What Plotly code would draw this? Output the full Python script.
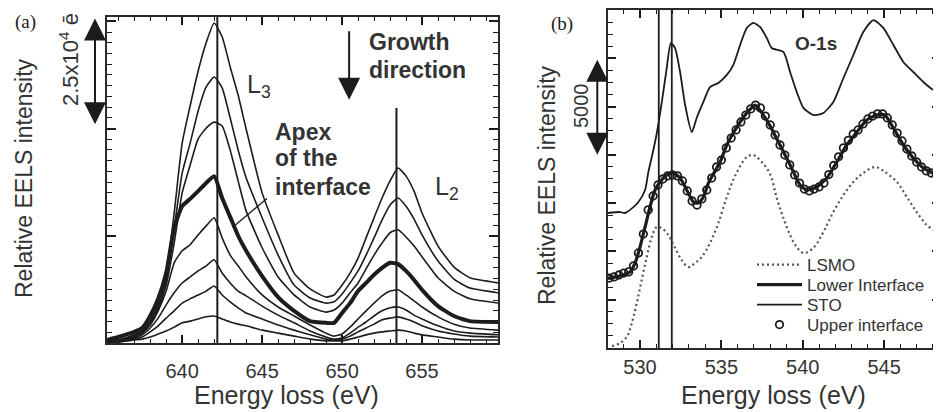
import plotly.graph_objects as go

INK = "#1c1c1c"
FONT = "Liberation Sans, Arial, Helvetica, sans-serif"

# ---------------- Panel (a): Mn L2,3 edge, spectra across the interface ----------------
energy_a = [635.3, 636, 637, 637.5, 638, 638.5, 639, 639.5, 640, 640.5, 641, 641.5, 642, 642.5,
            643, 643.5, 644, 645, 646, 647, 648, 649, 649.5, 650, 650.5, 651, 651.5, 652,
            652.5, 653, 653.5, 654, 654.5, 655, 656, 657, 658, 659.8]

# intensities in units of 10^3 electrons (top spectrum first)
spec_1 = [0.5, 0.7, 1.9, 2.8, 5.1, 9.3, 15.9, 30.3, 46.6, 55.3, 63.4, 70.0, 74.6, 71.4, 64.4, 57.8,
          49.9, 35.0, 25.2, 16.3, 12.6, 10.7, 11.2, 13.5, 16.3, 19.8, 24.5, 29.2, 33.8, 37.8, 40.8,
          38.9, 35.4, 30.3, 22.6, 17.7, 15.2, 14.0]
spec_2 = [0.5, 0.7, 1.6, 2.6, 4.7, 8.4, 14.5, 26.8, 39.6, 46.6, 54.1, 59.7, 62.0, 59.5, 52.5, 45.0,
          38.5, 29.2, 20.5, 13.5, 10.5, 9.3, 9.6, 11.4, 14.0, 16.8, 20.5, 24.5, 28.7, 32.2, 33.8,
          31.9, 28.9, 25.2, 19.1, 14.9, 12.8, 11.7]
spec_3 = [0.5, 0.7, 1.6, 2.3, 4.4, 7.9, 13.5, 23.3, 35.0, 41.5, 47.6, 50.1, 51.5, 50.6, 45.0, 37.8,
          30.8, 22.2, 15.4, 11.2, 8.4, 7.2, 7.7, 9.3, 11.7, 14.0, 17.3, 20.5, 23.3, 25.7, 26.4,
          24.7, 22.6, 20.1, 15.2, 12.1, 10.3, 9.3]
spec_apex = [0.7, 1.4, 2.6, 3.5, 6.3, 10.3, 16.3, 26.8, 31.9, 33.6, 35.4, 37.3, 38.9, 33.8, 29.4, 25.0,
             21.5, 15.6, 10.7, 7.5, 5.1, 4.7, 4.7, 7.0, 9.3, 12.1, 14.0, 15.9, 17.5, 18.7, 18.4,
             16.8, 14.7, 12.4, 8.6, 6.3, 5.1, 4.9]
spec_5 = [0.5, 0.7, 1.4, 2.3, 4.2, 7.5, 12.1, 18.7, 21.5, 22.9, 25.2, 27.3, 29.2, 24.5, 20.5, 18.0,
          15.4, 11.2, 8.4, 6.3, 4.2, 2.3, 1.6, 2.1, 3.7, 5.6, 7.5, 9.3, 11.0, 12.1, 12.4,
          11.2, 9.8, 8.4, 6.1, 4.4, 3.5, 3.0]
spec_6 = [0.5, 0.7, 1.2, 1.9, 3.5, 5.8, 8.9, 11.7, 14.0, 15.4, 16.8, 18.0, 19.4, 16.3, 14.0, 12.1,
          11.0, 8.6, 6.5, 4.7, 2.8, 1.4, 0.9, 1.2, 2.3, 3.7, 4.9, 6.3, 7.5, 8.2, 8.4,
          7.7, 6.5, 5.6, 4.0, 2.8, 2.3, 1.9]
spec_7 = [0.2, 0.5, 0.9, 1.4, 2.6, 4.0, 5.8, 7.5, 9.3, 10.3, 11.2, 12.1, 13.3, 11.2, 9.6, 8.2,
          7.0, 5.6, 4.2, 3.0, 1.9, 0.9, 0.7, 0.9, 1.6, 2.6, 3.5, 4.4, 5.4, 5.8, 6.1,
          5.6, 4.9, 4.0, 2.8, 2.1, 1.6, 1.4]
spec_8 = [0.2, 0.2, 0.7, 0.9, 1.4, 2.1, 2.8, 3.7, 4.7, 5.1, 5.6, 6.1, 6.3, 5.6, 4.9, 4.4,
          4.0, 3.0, 2.3, 1.6, 0.9, 0.5, 0.5, 0.5, 0.9, 1.4, 1.9, 2.3, 2.6, 2.8, 3.0,
          2.8, 2.3, 1.9, 1.4, 0.9, 0.7, 0.7]

edge_energy_a = [642.2, 653.4]        # L3, L2 marker lines
edge_top_a = [76.0, 54.8]
scale_a = [51.0, 76.0]                # 2.5x10^4 e scale bar (10^3 e units)
growth_arrow = [73.0, 56.7]

# ---------------- Panel (b): O-1s edge ----------------
sto_energy = [528.03, 528.77, 529.08, 529.39, 529.90, 530.31, 530.51, 530.75, 531.03, 531.33,
              531.64, 531.89, 532.15, 532.46, 532.77, 533.18, 533.48, 533.89, 534.30, 534.81,
              535.33, 535.73, 536.15, 536.56, 536.96, 537.38, 537.79, 538.09, 538.81, 539.22,
              539.63, 540.04, 540.65, 541.27, 541.88, 542.50, 543.11, 543.72, 544.34, 544.95,
              545.57, 546.18, 546.79, 547.41, 548.03, 548.44]
sto_intensity = [6.99, 7.04, 6.99, 7.15, 7.56, 8.18, 9.11, 9.99, 11.13, 12.69,
                 14.50, 15.79, 15.53, 14.29, 12.58, 11.18, 11.91, 12.74, 13.51, 13.72,
                 14.14, 14.65, 15.69, 16.57, 16.83, 16.62, 16.05, 15.53, 15.33, 14.29,
                 13.26, 12.43, 12.06, 12.17, 12.74, 13.98, 15.17, 16.36, 16.98, 16.57,
                 15.69, 14.81, 14.29, 13.77, 13.36, 13.36]

lower_energy = [528.03, 528.77, 529.39, 529.69, 530.00, 530.31, 530.61, 530.92, 531.23, 531.64,
                532.05, 532.46, 532.87, 533.28, 533.58, 533.89, 534.20, 534.51, 534.92, 535.33,
                535.73, 536.15, 536.56, 537.07, 537.58, 537.99, 538.60, 539.22, 539.83, 540.25,
                540.86, 541.48, 542.09, 542.70, 543.32, 543.93, 544.55, 545.06, 545.57, 546.18,
                546.79, 547.41, 548.03, 548.44]
lower_intensity = [3.60, 3.73, 3.94, 4.40, 5.23, 6.27, 7.30, 8.18, 8.60, 8.96,
                   9.06, 8.80, 8.18, 7.56, 7.51, 7.82, 8.54, 9.01, 9.63, 10.51,
                   11.13, 11.70, 12.17, 12.58, 12.06, 11.50, 10.51, 9.48, 8.44, 8.18,
                   8.34, 8.80, 9.63, 10.51, 11.18, 11.81, 12.06, 12.06, 11.39, 10.51,
                   9.84, 9.32, 9.06, 8.96]

upper_energy = [528.1, 528.4, 528.7, 529.0, 529.3, 529.6, 529.9, 530.2, 530.5, 530.8,
                531.1, 531.4, 531.7, 532.0, 532.3, 532.6, 532.9, 533.2, 533.5, 533.8,
                534.1, 534.4, 534.7, 535.0, 535.3, 535.6, 535.9, 536.2, 536.5, 536.8,
                537.1, 537.4, 537.7, 538.0, 538.3, 538.6, 538.9, 539.2, 539.5, 539.8,
                540.1, 540.4, 540.7, 541.0, 541.3, 541.6, 541.9, 542.2, 542.5, 542.8,
                543.1, 543.4, 543.7, 544.0, 544.3, 544.6, 544.9, 545.2, 545.5, 545.8,
                546.1, 546.4, 546.7, 547.0, 547.3, 547.6, 547.9, 548.2]
upper_intensity = [3.62, 3.68, 3.78, 3.88, 3.94, 4.25, 4.92, 5.90, 7.15, 7.87,
                   8.44, 8.75, 8.91, 8.96, 8.91, 8.65, 8.13, 7.61, 7.40, 7.72,
                   8.18, 8.80, 9.37, 9.73, 10.36, 10.87, 11.29, 11.70, 12.06, 12.38,
                   12.58, 12.43, 12.01, 11.55, 11.03, 10.51, 9.99, 9.48, 8.96, 8.54,
                   8.23, 8.13, 8.23, 8.34, 8.54, 8.98, 9.45, 9.90, 10.36, 10.75,
                   11.08, 11.29, 11.60, 11.86, 12.01, 12.12, 12.12, 11.91, 11.55, 11.13,
                   10.72, 10.30, 9.94, 9.63, 9.37, 9.17, 9.06, 9.01]

lsmo_energy = [528.28, 528.77, 529.18, 529.49, 529.80, 530.10, 530.41, 530.72, 531.03, 531.33,
               531.74, 532.15, 532.56, 532.97, 533.38, 533.79, 534.30, 534.81, 535.33, 535.84,
               536.56, 536.96, 537.48, 537.99, 538.40, 538.81, 539.22, 539.63, 540.04, 540.65,
               541.27, 541.88, 542.50, 543.11, 543.72, 544.44, 545.06, 545.78, 546.39, 547.00,
               547.62, 548.24]
lsmo_intensity = [0.10, 0.26, 0.57, 1.29, 2.33, 3.52, 4.71, 5.75, 6.27, 6.21,
                  5.85, 5.18, 4.56, 4.19, 4.40, 4.71, 5.44, 6.47, 7.82, 8.91,
                  9.89, 9.99, 9.63, 9.01, 7.77, 6.73, 5.85, 5.23, 4.92, 5.18,
                  6.01, 7.04, 7.92, 8.60, 9.06, 9.37, 9.11, 8.60, 7.82, 7.04,
                  6.37, 6.01]

edge_energy_b = [531.15, 531.95]
scale_b = [10.0, 15.0]                # 5000 e scale bar (10^3 e units)

legend_names = ["LSMO", "Lower Interface", "STO", "Upper interface"]

# ---------------- Figure ----------------
fig = go.Figure()

thin_specs = [spec_1, spec_2, spec_3, spec_5, spec_6, spec_7, spec_8]
for s in thin_specs:
    fig.add_trace(go.Scatter(x=energy_a, y=s, mode="lines", showlegend=False,
                             line=dict(color=INK, width=1.6, shape="spline", smoothing=0.5),
                             xaxis="x", yaxis="y"))
fig.add_trace(go.Scatter(x=energy_a, y=spec_apex, mode="lines", showlegend=False,
                         line=dict(color=INK, width=4, shape="spline", smoothing=0.5),
                         xaxis="x", yaxis="y"))
for e, top in zip(edge_energy_a, edge_top_a):
    fig.add_trace(go.Scatter(x=[e, e], y=[0, top], mode="lines", showlegend=False,
                             line=dict(color=INK, width=2), xaxis="x", yaxis="y"))

for e in edge_energy_b:
    fig.add_trace(go.Scatter(x=[e, e], y=[0, 17.5], mode="lines", showlegend=False,
                             line=dict(color=INK, width=1.8), xaxis="x2", yaxis="y2"))

fig.add_trace(go.Scatter(x=lsmo_energy, y=lsmo_intensity, mode="lines", name=legend_names[0],
                         line=dict(color="#555555", width=2.2, dash="2px,3px", shape="spline"),
                         xaxis="x2", yaxis="y2", legend="legend"))
fig.add_trace(go.Scatter(x=lower_energy, y=lower_intensity, mode="lines", name=legend_names[1],
                         line=dict(color=INK, width=3.2, shape="spline", smoothing=0.6),
                         xaxis="x2", yaxis="y2", legend="legend2"))
fig.add_trace(go.Scatter(x=sto_energy, y=sto_intensity, mode="lines", name=legend_names[2],
                         line=dict(color=INK, width=1.8, shape="spline", smoothing=0.6),
                         xaxis="x2", yaxis="y2", legend="legend3"))
fig.add_trace(go.Scatter(x=upper_energy, y=upper_intensity, mode="markers", name=legend_names[3],
                         marker=dict(symbol="circle-open", size=7.5, color=INK,
                                     line=dict(width=1.8, color=INK)),
                         xaxis="x2", yaxis="y2", legend="legend4"))


def axis_style(**kw):
    d = dict(showline=True, linecolor="#2a2a2a", linewidth=2, mirror="ticks",
             ticks="inside", tickcolor=INK, tickwidth=1.5, showgrid=False,
             zeroline=False, fixedrange=True)
    d.update(kw)
    return d


# the page adds an 8 px body margin, so the figure is 933 x 404 and sits at (8, 8)
fig.update_layout(
    width=933, height=404,
    margin=dict(l=0, r=0, t=0, b=0, autoexpand=False),
    paper_bgcolor="white", plot_bgcolor="white",
    font=dict(family=FONT, color=INK),
    xaxis=axis_style(domain=[0.10611, 0.52519], range=[635.3, 659.75], anchor="y",
                     tick0=640, dtick=5, ticklen=8,
                     minor=dict(dtick=1, ticks="inside", ticklen=4, tickcolor=INK, tickwidth=1.2),
                     tickfont=dict(size=20, family=FONT, color="#333333"), ticklabelstandoff=9),
    yaxis=axis_style(domain=[0.17079, 0.97772], range=[0, 76], anchor="x",
                     dtick=25, ticklen=9, showticklabels=False,
                     minor=dict(dtick=2.5, ticks="inside", ticklen=5, tickcolor=INK, tickwidth=1.2)),
    xaxis2=axis_style(domain=[0.64309, 0.9985], range=[528.03, 548.41], anchor="y2",
                      tick0=530, dtick=5, ticklen=8,
                      minor=dict(dtick=1, ticks="inside", ticklen=4, tickcolor=INK, tickwidth=1.2),
                      tickfont=dict(size=20, family=FONT, color="#333333"), ticklabelstandoff=0),
    yaxis2=axis_style(domain=[0.15842, 0.99505], range=[0, 17.5], anchor="x2",
                      dtick=2.5, ticklen=8, showticklabels=False,
                      minor=dict(dtick=0.625, ticks="inside", ticklen=5, tickcolor=INK, tickwidth=1.2)),
)

legend_rows = [0.36386, 0.31436, 0.26485, 0.21535]
for i, yv in enumerate(legend_rows):
    key = "legend" if i == 0 else f"legend{i+1}"
    fig.update_layout({key: dict(x=0.79743, y=yv, xanchor="left", yanchor="middle",
                                 bgcolor="rgba(0,0,0,0)", borderwidth=0, itemwidth=45,
                                 font=dict(size=17, family=FONT, color="#333333"))})

ann = []


def text(t, x, y, size, xanchor="center", bold=False, angle=0, family=FONT, color="#333333"):
    ann.append(dict(text=(f"<b>{t}</b>" if bold else t), x=x, y=y, xref="paper", yref="paper",
                    xanchor=xanchor, yanchor="middle", showarrow=False, textangle=angle,
                    font=dict(size=size, family=family, color=color)))


text("Relative EELS intensity", 0.01715, 0.5792, 23, angle=-90)
text("Relative EELS intensity", 0.5777, 0.5619, 23, angle=-90)
text("Energy loss (eV)", 0.2985, 0.04208, 25)
text("Energy loss (eV)", 0.8210, 0.04208, 25)
text("2.5x10<sup>4</sup> ē", 0.06538, 0.87376, 22, angle=-90)
text("5000", 0.61415, 0.75743, 20, angle=-90)
text("(a)", 0.01929, 0.96535, 19, family="Liberation Serif, Times New Roman, serif", color=INK)
text("(b)", 0.59378, 0.9604, 19, family="Liberation Serif, Times New Roman, serif", color=INK)
text("Growth", 0.38478, 0.91584, 23, xanchor="left", bold=True)
text("direction", 0.38478, 0.84653, 23, xanchor="left", bold=True)
text("Apex", 0.28403, 0.69307, 23, xanchor="left", bold=True)
text("of the", 0.28403, 0.62871, 23, xanchor="left", bold=True)
text("interface", 0.28403, 0.55693, 23, xanchor="left", bold=True)
text("L<sub>3</sub>", 0.25402, 0.80693, 25, xanchor="left")
text("L<sub>2</sub>", 0.45552, 0.55446, 25, xanchor="left")
text("O-1s", 0.86602, 0.91213, 19, bold=True)


def arrow(x, y, ax, ay, xr, yr, both=True, head=2, size=2.2, width=2):
    d = dict(x=x, y=y, ax=ax, ay=ay, xref=xr, yref=yr, axref=xr, ayref=yr, text="",
             showarrow=True, arrowhead=head, arrowsize=size, arrowwidth=width, arrowcolor=INK)
    if both:
        d.update(arrowside="end+start", startarrowhead=head, startarrowsize=size)
    ann.append(d)


# scale bars sit just left of each frame (x in axis-domain fractions, y in data units)
arrow(-0.0307, scale_a[0], -0.0307, scale_a[1], "x domain", "y")
arrow(-0.0323, scale_b[0], -0.0323, scale_b[1], "x2 domain", "y2")
arrow(650.44, growth_arrow[1], 650.44, growth_arrow[0], "x", "y", both=False)
arrow(643.2, 27.1, 645.4, 34.0, "x", "y", both=False, head=0, size=1, width=1.3)

fig.update_layout(annotations=ann)
fig.write_html("out.html")
